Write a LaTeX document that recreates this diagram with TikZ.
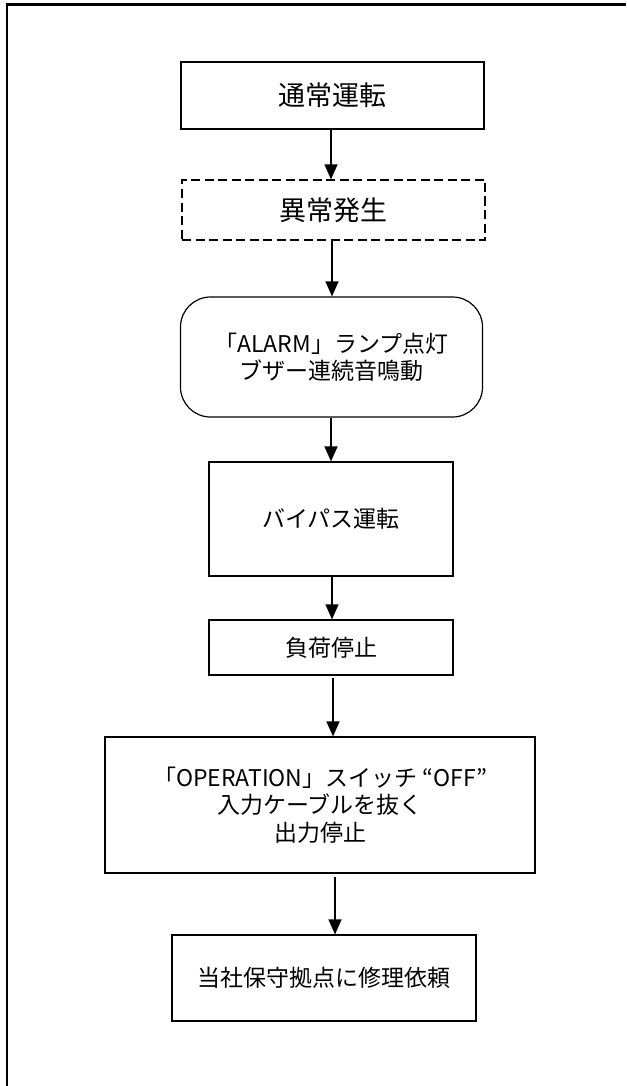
\documentclass[tikz,border=0pt]{standalone}
\usepackage{fontspec}
\setmainfont{Noto Sans CJK JP}
\usetikzlibrary{arrows.meta}
\begin{document}
\begin{tikzpicture}[x=1pt,y=-1pt,
  box/.style={draw,line width=1.2pt,inner sep=0pt,align=center,font=\fontsize{23}{27.5}\selectfont},
  bigtext/.style={font=\fontsize{27}{30}\selectfont},
  arr/.style={line width=1.3pt,-{Triangle[length=15pt,width=13pt]}},
  frame/.style={line width=2.5pt}]
\useasboundingbox (0,0) rectangle (626,1086);
\draw[frame] (7,1086) -- (7,4.5) -- (626,4.5);
\node[box,bigtext,minimum width=303pt,minimum height=67pt] (n1) at (332.5,95.5) {通常運転};
\node[box,bigtext,dash pattern=on 9pt off 4.5pt,minimum width=303pt,minimum height=60pt] (n2) at (333.5,210) {異常発生};
\node[box,rounded corners=30pt,minimum width=302pt,minimum height=120pt] (n3) at (331.5,357) {「ALARM」ランプ点灯\\ブザー連続音鳴動};
\node[box,minimum width=244pt,minimum height=114pt] (n4) at (331,519) {バイパス運転};
\node[box,minimum width=244pt,minimum height=55pt] (n5) at (331,647.5) {負荷停止};
\node[box,minimum width=430pt,minimum height=136pt] (n6) at (320,805) {「OPERATION」スイッチ “OFF”\\入力ケーブルを抜く\\出力停止};
\node[box,minimum width=304pt,minimum height=86pt] (n7) at (324,978) {当社保守拠点に修理依頼};
\coordinate (c5) at (333,0);
\coordinate (c6) at (335,0);
\draw[arr] (n1.south -| 331,0) -- (n2.north -| 331,0);
\draw[arr] (n2.south -| 332,0) -- (n3.north -| 332,0);
\draw[arr] (n3.south -| 331,0) -- (n4.north -| 331,0);
\draw[arr] (n4.south -| 332,0) -- (n5.north -| 332,0);
\draw[arr] ([yshift=-2pt]n5.south -| c5) -- (n6.north -| c5);
\draw[arr] ([yshift=-3pt]n6.south -| c6) -- (n7.north -| c6);
\end{tikzpicture}
\end{document}
